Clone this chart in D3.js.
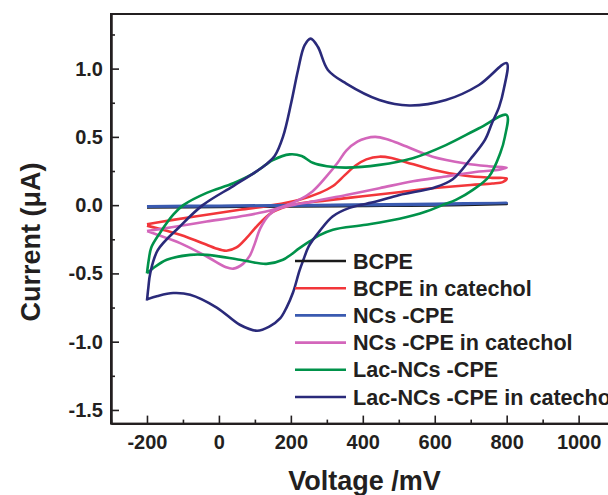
<!DOCTYPE html>
<html>
<head>
<meta charset="utf-8">
<script src="https://cdn.jsdelivr.net/npm/d3@7"></script>
<style>
  body { margin: 0; background: #fff; }
  text { font-family: "Liberation Sans", Arial, sans-serif; font-weight: bold; fill: #231f20; }
</style>
</head>
<body>
<div id="chart-area"></div>
<script>
// series names (legend order)
var seriesNames = ["BCPE", "BCPE in catechol", "NCs -CPE", "NCs -CPE in catechol", "Lac-NCs -CPE", "Lac-NCs -CPE in catechol"];

// each curve: [voltage mV, current uA], forward sweep then reverse sweep
var bcpe = [[-200,-0.012],[0,-0.008],[200,-0.004],[400,0.0],[600,0.004],[800,0.008],
            [600,-0.002],[400,-0.006],[200,-0.01],[0,-0.013],[-200,-0.016]];

var bcpeCatechol = [[-200,-0.14],[-127,-0.108],[-34,-0.07],[58,-0.034],[150,0.0],[224,0.04],[280,0.09],[317,0.14],
            [350,0.22],[380,0.29],[410,0.335],[446,0.355],[480,0.345],[520,0.315],[594,0.26],[686,0.215],[760,0.2],[800,0.195],
            [790,0.17],[760,0.158],[700,0.148],[600,0.125],[500,0.095],[400,0.065],[300,0.035],[224,0.012],[188,-0.01],
            [150,-0.05],[132,-0.085],[100,-0.17],[77,-0.24],[49,-0.31],[21,-0.334],[-10,-0.315],[-34,-0.29],[-108,-0.217],
            [-171,-0.17],[-200,-0.15]];

var ncsCpe = [[-200,-0.008],[0,-0.004],[200,0.0],[400,0.004],[600,0.01],[800,0.016],
            [600,0.004],[400,0.0],[200,-0.004],[0,-0.008],[-200,-0.012]];

var ncsCatechol = [[-200,-0.19],[-127,-0.16],[-34,-0.12],[58,-0.083],[150,-0.034],[224,0.04],[260,0.1],[299,0.21],
            [330,0.31],[354,0.40],[385,0.465],[409,0.49],[435,0.50],[465,0.485],[502,0.45],[594,0.355],[686,0.305],
            [750,0.285],[800,0.275],
            [780,0.26],[723,0.246],[631,0.21],[539,0.175],[446,0.124],[354,0.075],[261,0.026],[224,0.01],[169,-0.022],
            [140,-0.07],[115,-0.17],[100,-0.28],[86,-0.37],[67,-0.43],[40,-0.465],[20,-0.455],[-34,-0.376],[-108,-0.278],
            [-171,-0.217],[-200,-0.19]];

var lacCpe = [[-200,-0.50],[-195,-0.40],[-188,-0.31],[-163,-0.2],[-127,-0.07],[-99,0.0],[-34,0.09],[40,0.16],[95,0.23],
            [150,0.33],[197,0.372],[230,0.36],[261,0.31],[300,0.285],[354,0.275],[446,0.295],[539,0.344],[631,0.44],
            [723,0.563],[800,0.66],
            [795,0.5],[782,0.38],[751,0.21],[705,0.11],[660,0.04],[621,0.0],[576,-0.047],[502,-0.10],[409,-0.144],
            [317,-0.18],[280,-0.22],[252,-0.266],[224,-0.315],[178,-0.40],[132,-0.43],[58,-0.40],[-34,-0.364],
            [-80,-0.364],[-145,-0.40],[-182,-0.46],[-200,-0.50]];

var lacCatechol = [[-200,-0.70],[-196,-0.60],[-191,-0.50],[-170,-0.33],[-110,-0.16],[-45,0.0],[40,0.14],[100,0.24],
            [132,0.30],[155,0.36],[178,0.50],[201,0.75],[220,0.99],[238,1.17],[255,1.22],[275,1.16],[303,0.99],[354,0.89],
            [446,0.77],[529,0.73],[631,0.77],[723,0.88],[800,1.04],
            [792,0.85],[779,0.72],[759,0.60],[740,0.48],[700,0.34],[650,0.19],[600,0.13],[502,0.075],[437,0.026],
            [363,-0.02],[316,-0.083],[280,-0.19],[250,-0.30],[235,-0.40],[224,-0.48],[206,-0.64],[188,-0.75],[170,-0.83],
            [140,-0.89],[106,-0.92],[58,-0.876],[-6,-0.75],[-80,-0.656],[-127,-0.644],[-170,-0.665],[-200,-0.69]];

var seriesColors = ["#1a1a1a", "#f2363a", "#3a5ab0", "#d366bb", "#00924a", "#2a2a7a"];

var xMajorTicks = [-200, 0, 200, 400, 600, 800, 1000];
var xMinorTicks = [-300, -100, 100, 300, 500, 700, 900, 1100];
var yMajorTicks = [-1.5, -1.0, -0.5, 0.0, 0.5, 1.0];
var yMinorTicks = [-1.25, -0.75, -0.25, 0.25, 0.75, 1.25];

var curves = [bcpe, bcpeCatechol, ncsCpe, ncsCatechol, lacCpe, lacCatechol];

var width = 608, height = 495;
var margin = {top: 14, left: 111};
var plotW = 503.6, plotH = 409.6;

var svg = d3.select("#chart-area").append("svg").attr("width", width).attr("height", height);
var g = svg.append("g").attr("transform", "translate(" + margin.left + "," + margin.top + ")");

var x = d3.scaleLinear().domain([-300, 1100]).range([0, plotW]);
var y = d3.scaleLinear().domain([-1.6, 1.4]).range([plotH, 0]);

var line = d3.line().x(d => x(d[0])).y(d => y(d[1])).curve(d3.curveCatmullRom.alpha(0.5));

// curves
curves.forEach((c, i) => {
    g.append("path").datum(c).attr("d", line).attr("fill", "none")
        .attr("stroke", seriesColors[i]).attr("stroke-width", 2.6).attr("stroke-linejoin", "round");
});

// frame
g.append("rect").attr("x", 0).attr("y", 0).attr("width", plotW).attr("height", plotH)
    .attr("fill", "none").attr("stroke", "#231f20").attr("stroke-width", 2);

// axes with inward ticks
var xAxis = d3.axisBottom(x).tickValues(xMajorTicks).tickSizeInner(-8).tickSizeOuter(0).tickPadding(11)
    .tickFormat(d => String(d));
var gx = g.append("g").attr("transform", "translate(0," + plotH + ")").call(xAxis);
g.append("g").attr("transform", "translate(0," + plotH + ")")
    .call(d3.axisBottom(x).tickValues(xMinorTicks).tickSizeInner(-4).tickSizeOuter(0).tickFormat(""));

var yAxis = d3.axisLeft(y).tickValues(yMajorTicks).tickSizeInner(-8).tickSizeOuter(0).tickPadding(8)
    .tickFormat(d => d.toFixed(1));
var gy = g.append("g").call(yAxis);
g.append("g").call(d3.axisLeft(y).tickValues(yMinorTicks).tickSizeInner(-4).tickSizeOuter(0).tickFormat(""));

svg.selectAll(".domain").attr("stroke", "#231f20").attr("stroke-width", 2);
svg.selectAll(".tick line").attr("stroke", "#231f20").attr("stroke-width", 1.6);
svg.selectAll(".tick text").attr("font-size", "20px").attr("fill", "#231f20")
    .attr("font-family", "'Liberation Sans', Arial, sans-serif").attr("font-weight", "bold");

// axis titles
svg.append("text").attr("x", 364.5).attr("y", 490).attr("text-anchor", "middle")
    .attr("font-size", "27px").text("Voltage /mV");
svg.append("text").attr("transform", "translate(40,242) rotate(-90)").attr("text-anchor", "middle")
    .attr("font-size", "27px").text("Current (\u03bcA)");

// legend
var legend = svg.append("g").attr("transform", "translate(295,261)");
seriesNames.forEach((name, i) => {
    var row = legend.append("g").attr("transform", "translate(0," + (i * 27.2) + ")");
    row.append("line").attr("x1", 0).attr("x2", 51).attr("y1", 0).attr("y2", 0)
        .attr("stroke", seriesColors[i]).attr("stroke-width", 2.6);
    row.append("text").attr("x", 58).attr("y", 7.6).attr("font-size", "21.6px").text(name);
});
</script>
</body>
</html>
